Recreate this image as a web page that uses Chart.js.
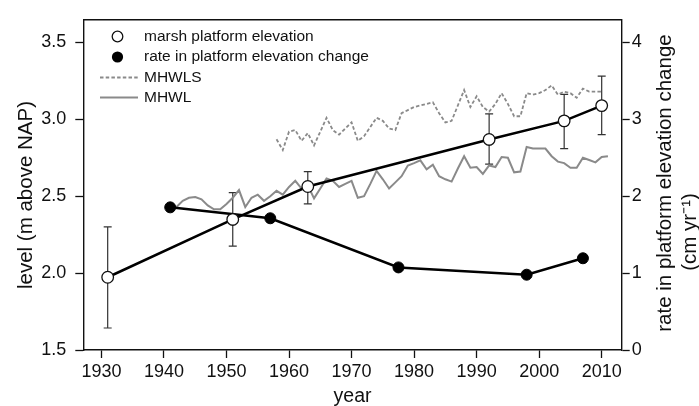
<!DOCTYPE html>
<html lang="en">
<head>
<meta charset="UTF-8" />
<title>Marsh platform elevation</title>
<script src="https://cdn.jsdelivr.net/npm/chart.js"></script>
<style>
  body { margin: 0; background: #fff; }
</style>
</head>
<body>
<canvas id="marsh" width="699" height="406"></canvas>
<script>
  // marsh platform elevation (m above NAP), with error bar ends
  const elevYears = [1931, 1951, 1963, 1992, 2004, 2010];
  const elevLevel = [1.973, 2.349, 2.563, 2.869, 2.99, 3.089];
  const elevLow = [1.643, 2.175, 2.45, 2.708, 2.81, 2.901];
  const elevHigh = [2.30, 2.523, 2.66, 3.035, 3.162, 3.281];

  // rate in platform elevation change (cm/yr)
  const rateYears = [1941, 1957, 1977.5, 1998, 2007];
  const rateValues = [1.855, 1.713, 1.074, 0.979, 1.193];

  // mean high water level at spring tide
  const mhwlsYears = [1958, 1959, 1960, 1961, 1962, 1963, 1964, 1965, 1966, 1967,
    1968, 1969, 1970, 1971, 1972, 1973, 1974, 1975, 1976, 1977,
    1978, 1979, 1980, 1981, 1982, 1983, 1984, 1985, 1986, 1987,
    1988, 1989, 1990, 1991, 1992, 1993, 1994, 1995, 1996, 1997,
    1998, 1999, 2000, 2001, 2002, 2003, 2004, 2005, 2006, 2007,
    2008, 2009, 2010];
  const mhwlsLevel = [2.87, 2.80, 2.92, 2.93, 2.86, 2.91, 2.83, 2.92, 3.01, 2.93,
    2.90, 2.94, 2.98, 2.86, 2.89, 2.95, 3.01, 2.99, 2.94, 2.93,
    3.04, 3.06, 3.08, 3.09, 3.10, 3.11, 3.04, 2.98, 2.99, 3.09,
    3.19, 3.08, 3.15, 3.08, 3.05, 3.10, 3.17, 3.10, 3.02, 3.02,
    3.17, 3.16, 3.17, 3.19, 3.22, 3.16, 3.18, 3.17, 3.14, 3.20,
    3.18, 3.18, 3.18];

  // mean high water level
  const mhwlYears = [1942, 1943, 1944, 1945, 1946, 1947, 1948, 1949, 1950, 1951,
    1952, 1953, 1954, 1955, 1956, 1957, 1958, 1959, 1960, 1961,
    1962, 1963, 1964, 1965, 1966, 1967, 1968, 1969, 1970, 1971,
    1972, 1973, 1974, 1975, 1976, 1977, 1978, 1979, 1980, 1981,
    1982, 1983, 1984, 1985, 1986, 1987, 1988, 1989, 1990, 1991,
    1992, 1993, 1994, 1995, 1996, 1997, 1998, 1999, 2000, 2001,
    2002, 2003, 2004, 2005, 2006, 2007, 2008, 2009, 2010, 2011];
  const mhwlLevel = [2.43, 2.47, 2.49, 2.495, 2.48, 2.44, 2.415, 2.415, 2.45, 2.49,
    2.54, 2.43, 2.49, 2.51, 2.47, 2.50, 2.535, 2.51, 2.56, 2.60,
    2.55, 2.57, 2.486, 2.55, 2.615, 2.60, 2.56, 2.58, 2.60, 2.49,
    2.50, 2.58, 2.665, 2.61, 2.55, 2.59, 2.63, 2.70, 2.715, 2.733,
    2.675, 2.705, 2.63, 2.61, 2.595, 2.68, 2.76, 2.685, 2.69, 2.645,
    2.70, 2.69, 2.755, 2.75, 2.655, 2.66, 2.82, 2.81, 2.81, 2.81,
    2.76, 2.725, 2.715, 2.685, 2.685, 2.75, 2.735, 2.72, 2.755, 2.76];

  const yearTicks = [1930, 1940, 1950, 1960, 1970, 1980, 1990, 2000, 2010];
  const levelTicks = [1.5, 2.0, 2.5, 3.0, 3.5];
  const rateTicks = [0, 1, 2, 3, 4];

  const legendItems = ["marsh platform elevation", "rate in platform elevation change", "MHWLS", "MHWL"];

  const pts = (xs, ys) => xs.map((x, i) => ({ x: x, y: ys[i] }));
  const GREY = "#8a8a8a";
  const FONT = "'Liberation Sans', Arial, sans-serif";

  // error bars, frame, legend and y titles
  const extras = {
    id: "extras",
    beforeDatasetsDraw(chart) {
      const { ctx, scales } = chart;
      ctx.save();
      ctx.strokeStyle = "#333";
      ctx.lineWidth = 1.2;
      elevYears.forEach((yr, i) => {
        const x = scales.x.getPixelForValue(yr);
        const y1 = scales.y.getPixelForValue(elevHigh[i]);
        const y2 = scales.y.getPixelForValue(elevLow[i]);
        ctx.beginPath();
        ctx.moveTo(x, y1); ctx.lineTo(x, y2);
        ctx.moveTo(x - 4, y1); ctx.lineTo(x + 4, y1);
        ctx.moveTo(x - 4, y2); ctx.lineTo(x + 4, y2);
        ctx.stroke();
      });
      ctx.restore();
    },
    afterDraw(chart) {
      const { ctx, chartArea: a } = chart;
      ctx.save();
      // top border of the frame
      ctx.strokeStyle = "#111";
      ctx.lineWidth = 1.4;
      ctx.beginPath();
      ctx.moveTo(a.left, a.top); ctx.lineTo(a.right, a.top);
      ctx.stroke();

      // legend
      const lx = 144, rows = [36.5, 57, 77.5, 97.5];
      ctx.font = "15.5px " + FONT;
      ctx.fillStyle = "#111";
      ctx.textBaseline = "middle";
      ctx.textAlign = "left";
      legendItems.forEach((t, i) => ctx.fillText(t, lx, rows[i]));
      ctx.lineWidth = 1.3;
      ctx.strokeStyle = "#111";
      ctx.beginPath(); ctx.arc(117.5, rows[0], 5.3, 0, Math.PI * 2);
      ctx.fillStyle = "#fff"; ctx.fill(); ctx.stroke();
      ctx.beginPath(); ctx.arc(117.5, rows[1], 5.6, 0, Math.PI * 2);
      ctx.fillStyle = "#000"; ctx.fill();
      ctx.strokeStyle = GREY;
      ctx.lineWidth = 1.8;
      ctx.setLineDash([3.5, 2.2]);
      ctx.beginPath(); ctx.moveTo(100, rows[2]); ctx.lineTo(139, rows[2]); ctx.stroke();
      ctx.setLineDash([]);
      ctx.lineWidth = 2;
      ctx.beginPath(); ctx.moveTo(100, rows[3]); ctx.lineTo(138, rows[3]); ctx.stroke();

      // y axis titles (both read bottom to top)
      ctx.fillStyle = "#111";
      ctx.textAlign = "center";
      ctx.font = "20.5px " + FONT;
      ctx.save();
      ctx.translate(26, 195); ctx.rotate(-Math.PI / 2);
      ctx.fillText("level (m above NAP)", 0, 0);
      ctx.restore();
      ctx.save();
      ctx.translate(665, 183); ctx.rotate(-Math.PI / 2);
      ctx.fillText("rate in platform elevation change", 0, 0);
      ctx.restore();
      ctx.save();
      ctx.translate(690, 232); ctx.rotate(-Math.PI / 2);
      ctx.fillText("(cm yr\u207B\u00B9)", 0, 0);
      ctx.restore();
      ctx.restore();
    }
  };

  const tickFont = { family: FONT, size: 18 };

  new Chart(document.getElementById("marsh"), {
    type: "line",
    data: {
      datasets: [
        {
          label: "MHWL",
          data: pts(mhwlYears, mhwlLevel),
          borderColor: GREY,
          borderWidth: 2,
          pointRadius: 0,
          yAxisID: "y",
          order: 4,
        },
        {
          label: "MHWLS",
          data: pts(mhwlsYears, mhwlsLevel),
          borderColor: GREY,
          borderWidth: 1.8,
          borderDash: [3.5, 2.2],
          pointRadius: 0,
          yAxisID: "y",
          order: 3,
        },
        {
          label: "rate in platform elevation change",
          data: pts(rateYears, rateValues),
          borderColor: "#000",
          borderWidth: 2.5,
          pointRadius: 5.5,
          pointBackgroundColor: "#000",
          pointBorderColor: "#000",
          pointBorderWidth: 1,
          yAxisID: "y1",
          order: 2,
        },
        {
          label: "marsh platform elevation",
          data: pts(elevYears, elevLevel),
          borderColor: "#000",
          borderWidth: 2.5,
          pointRadius: 5.8,
          pointBackgroundColor: "#fff",
          pointBorderColor: "#111",
          pointBorderWidth: 1.3,
          yAxisID: "y",
          order: 1,
        },
      ],
    },
    options: {
      responsive: false,
      animation: false,
      layout: { padding: { top: 9, left: 0, right: 0, bottom: 0 } },
      plugins: { legend: { display: false }, tooltip: { enabled: false } },
      scales: {
        x: {
          type: "linear",
          min: 1927.1,
          max: 2013.2,
          afterBuildTicks: (s) => { s.ticks = yearTicks.map((v) => ({ value: v })); },
          afterFit: (s) => { s.height = 56; },
          ticks: { font: tickFont, color: "#111", padding: 3, callback: (v) => String(v) },
          grid: { drawOnChartArea: false, tickLength: 8, color: "#111", tickWidth: 1.3 },
          border: { display: true, color: "#111", width: 1.4 },
          title: { display: true, text: "year", font: { family: FONT, size: 19.5 }, color: "#111", padding: { top: 0, bottom: -2 } },
        },
        y: {
          position: "left",
          min: 1.5,
          max: 3.647,
          afterBuildTicks: (s) => { s.ticks = levelTicks.map((v) => ({ value: v })); },
          afterFit: (s) => { s.width = 83.3; },
          ticks: { font: tickFont, color: "#111", padding: 9, callback: (v) => v.toFixed(1) },
          grid: { drawOnChartArea: false, tickLength: 8, color: "#111", tickWidth: 1.3 },
          border: { display: true, color: "#111", width: 1.4 },
        },
        y1: {
          position: "right",
          min: 0,
          max: 4.294,
          afterBuildTicks: (s) => { s.ticks = rateTicks.map((v) => ({ value: v })); },
          afterFit: (s) => { s.width = 77.3; },
          ticks: { font: tickFont, color: "#111", padding: 2, callback: (v) => String(v) },
          grid: { drawOnChartArea: false, tickLength: 8, color: "#111", tickWidth: 1.3 },
          border: { display: true, color: "#111", width: 1.4 },
        },
      },
    },
    plugins: [extras],
  });
</script>
</body>
</html>
